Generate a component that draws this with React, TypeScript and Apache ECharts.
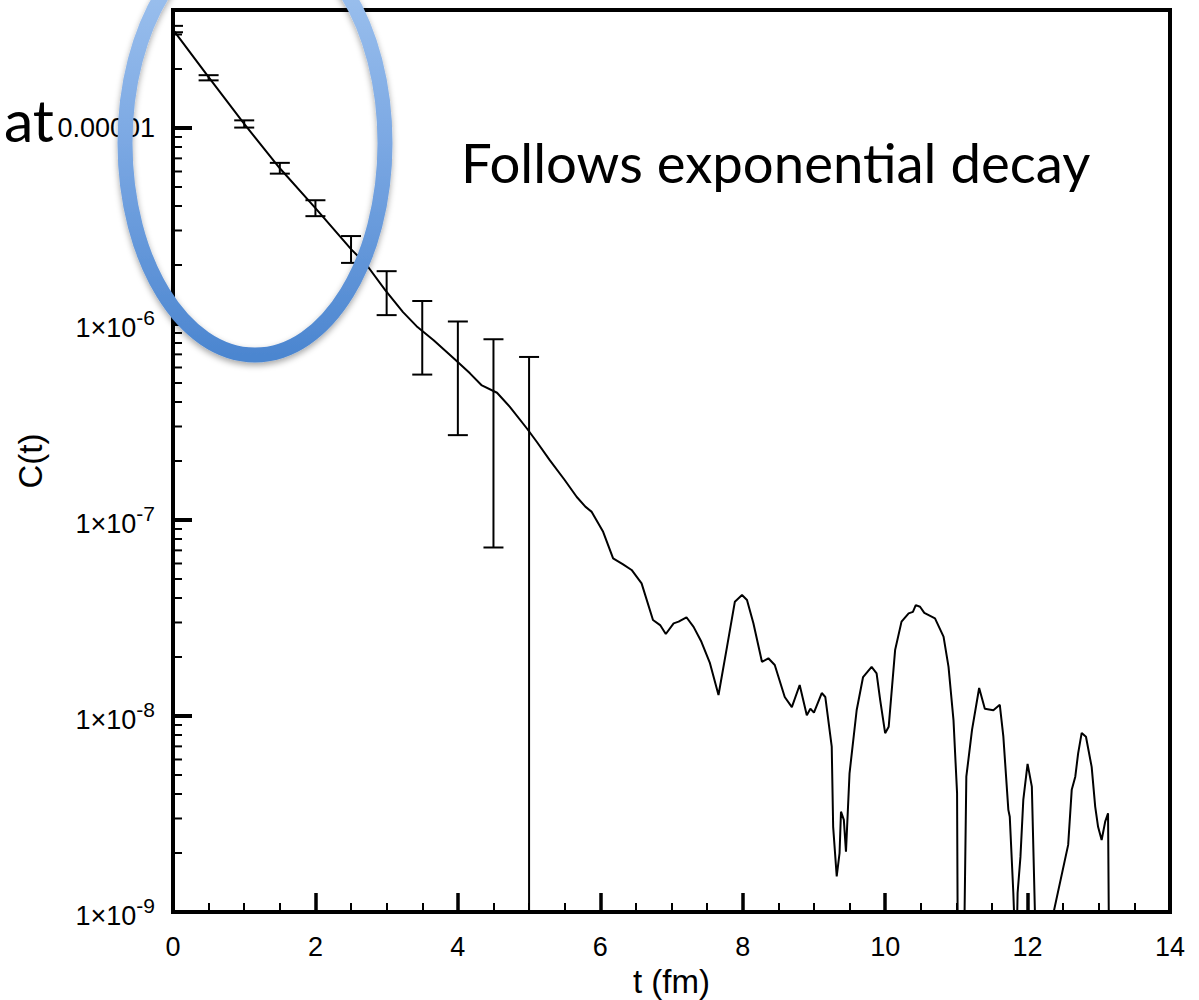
import React, { useEffect, useRef } from "react";
import * as echarts from "echarts";

// ---- curve C(t) (values below the axis floor are clipped) ----
const tValues = [
  0, 0.5, 1, 1.5, 2, 2.5, 2.72, 2.98, 3.23, 3.42, 3.66, 3.96, 4.17, 4.33, 4.55, 4.73, 4.97, 5.11, 5.29, 5.5,
  5.67, 5.79, 5.88, 6.04, 6.18, 6.32, 6.44, 6.58, 6.74, 6.84, 6.92, 7.03, 7.1, 7.21, 7.31, 7.42, 7.54, 7.66, 7.78, 7.89,
  7.99, 8.06, 8.15, 8.27, 8.36, 8.45, 8.59, 8.69, 8.8, 8.9, 8.95, 9.0, 9.11, 9.16, 9.25, 9.27, 9.32, 9.36, 9.38, 9.42,
  9.45, 9.5, 9.6, 9.69, 9.81, 9.88, 9.93, 10.0, 10.05, 10.14, 10.23, 10.33, 10.39, 10.43, 10.49, 10.55, 10.7, 10.82, 10.89, 10.96,
  11.01, 11.03, 11.08, 11.14, 11.22, 11.32, 11.4, 11.52, 11.61, 11.66, 11.73, 11.75, 11.8, 11.84, 11.86, 11.9, 11.94, 12.0, 12.06, 12.13,
  12.57, 12.62, 12.67, 12.71, 12.76, 12.82, 12.9, 12.95, 12.99, 13.04, 13.09, 13.13, 13.16,
];
const cValues = [
  3.18e-5, 1.82e-5, 1.05e-5, 6.23e-6, 3.9e-6, 2.41e-6, 2.0e-6, 1.49e-6, 1.15e-6, 9.75e-7, 8.26e-7, 6.59e-7, 5.6e-7, 4.88e-7, 4.46e-7, 3.78e-7, 2.93e-7, 2.5e-7, 2.02e-7, 1.6e-7,
  1.31e-7, 1.17e-7, 1.1e-7, 8.7e-8, 6.37e-8, 5.94e-8, 5.56e-8, 4.75e-8, 3.09e-8, 2.91e-8, 2.62e-8, 2.97e-8, 3.03e-8, 3.19e-8, 2.85e-8, 2.39e-8, 1.86e-8, 1.28e-8, 2.26e-8, 3.83e-8,
  4.14e-8, 3.91e-8, 2.97e-8, 1.89e-8, 1.97e-8, 1.82e-8, 1.25e-8, 1.11e-8, 1.44e-8, 1.01e-8, 1.09e-8, 1.04e-8, 1.31e-8, 1.25e-8, 6.97e-9, 2.72e-9, 1.52e-9, 2.0e-9, 3.25e-9, 2.95e-9,
  2.03e-9, 5.1e-9, 1.07e-8, 1.58e-8, 1.78e-8, 1.65e-8, 1.21e-8, 8.17e-9, 8.82e-9, 2.17e-8, 3.03e-8, 3.34e-8, 3.4e-8, 3.68e-8, 3.61e-8, 3.36e-8, 3.15e-8, 2.54e-8, 1.78e-8, 9.5e-9,
  4.04e-9, 1e-10, 1e-10, 4.9e-9, 8.5e-9, 1.39e-8, 1.09e-8, 1.07e-8, 1.14e-8, 7.84e-9, 3.32e-9, 3.06e-9, 1.25e-9, 5e-10, 1.25e-9, 1.91e-9, 3.73e-9, 5.7e-9, 4.36e-9, 4e-10,
  2.2e-9, 4.2e-9, 4.9e-9, 6.45e-9, 8.2e-9, 7.84e-9, 5.5e-9, 3.44e-9, 2.72e-9, 2.33e-9, 2.89e-9, 3.19e-9, 1e-10,
];

// ---- error bars ----
const errT = [0, 0.5, 1, 1.5, 2, 2.5, 3, 3.5, 4, 4.5, 5];
const errLow = [3.08e-5, 1.75e-5, 1.005e-5, 5.85e-6, 3.55e-6, 2.05e-6, 1.11e-6, 5.52e-7, 2.71e-7, 7.24e-8, 1e-9];
const errHigh = [3.32e-5, 1.86e-5, 1.094e-5, 6.64e-6, 4.28e-6, 2.81e-6, 1.86e-6, 1.31e-6, 1.03e-6, 8.36e-7, 6.79e-7];

// ---- axes ----
const xMin = 0;
const xMax = 14;
const xInterval = 2;
const yMin = 1e-9;
const yMax = 4e-5;
const yDecadeExponents = [-9, -8, -7, -6, -5];
const yPlainLabels: Record<number, string> = { [-5]: "0.00001" };
const yMinorMultipliers = [2, 3, 4, 5, 6, 7, 8, 9];

const minorTickValues: number[] = [];
yDecadeExponents.forEach((e) => {
  yMinorMultipliers.forEach((m) => {
    const v = m * Math.pow(10, e);
    if (v < yMax * 0.999) minorTickValues.push(v);
  });
});

const AXIS_FONT = "Liberation Sans, Arial, Helvetica, sans-serif";
const SLIDE_FONT = "Lato, 'Open Sans', sans-serif";

export default function App() {
  const ref = useRef<HTMLDivElement>(null);
  useEffect(() => {
    if (!ref.current) return;
    const chart = echarts.init(ref.current, null, { renderer: "svg" });
    const lineData = tValues.map((t, i) => [t, cValues[i]]);
    const errData = errT.map((t, i) => [t, errLow[i], errHigh[i]]);
    const minorData = minorTickValues.map((v) => [xMin, v]);

    const option: any = {
      animation: false,
      backgroundColor: "#ffffff",
      grid: {
        left: 173,
        right: 29,
        top: 10,
        bottom: 88,
        show: true,
        borderColor: "#000",
        borderWidth: 4,
        backgroundColor: "transparent",
        containLabel: false,
        outerBoundsMode: "none",
      },
      xAxis: {
        type: "value",
        min: xMin,
        max: xMax,
        interval: xInterval,
        name: "t (fm)",
        nameLocation: "middle",
        nameGap: 51,
        nameTextStyle: { fontSize: 33, fontFamily: AXIS_FONT, color: "#000" },
        axisLine: { show: true, onZero: false, lineStyle: { color: "#000", width: 4 } },
        axisTick: { show: true, inside: true, length: 19, lineStyle: { color: "#000", width: 3.5 } },
        minorTick: { show: true, splitNumber: 4, length: 9, lineStyle: { color: "#000", width: 2 } },
        splitLine: { show: false },
        minorSplitLine: { show: false },
        axisLabel: { margin: 21, fontSize: 27, fontFamily: AXIS_FONT, color: "#000" },
      },
      yAxis: {
        type: "log",
        logBase: 10,
        min: yMin,
        max: yMax,
        name: "C(t)",
        nameLocation: "middle",
        nameRotate: 90,
        nameGap: 125,
        nameTextStyle: { fontSize: 33, fontFamily: AXIS_FONT, color: "#000" },
        axisLine: { show: true, onZero: false, lineStyle: { color: "#000", width: 4 } },
        axisTick: { show: true, inside: true, length: 19, lineStyle: { color: "#000", width: 4 } },
        minorTick: { show: false },
        splitLine: { show: false },
        axisLabel: {
          margin: 18,
          showMaxLabel: false,
          formatter: (v: number) => {
            const lg = Math.log10(v);
            const e = Math.round(lg);
            if (Math.abs(lg - e) > 0.01) return "";
            if (yPlainLabels[e]) return "{p|" + yPlainLabels[e] + "}";
            return "{b|1×10}{s|" + e + "}";
          },
          rich: {
            p: { fontSize: 27, fontFamily: AXIS_FONT, color: "#000" },
            b: { fontSize: 27, fontFamily: AXIS_FONT, color: "#000", padding: [8, 0, 0, 0] },
            s: { fontSize: 21, fontFamily: AXIS_FONT, color: "#000", padding: [0, 0, 14, 0] },
          },
        },
      },
      series: [
        {
          type: "line",
          data: lineData,
          showSymbol: false,
          symbol: "none",
          clip: true,
          lineStyle: { color: "#000", width: 2 },
          z: 3,
        },
        {
          type: "custom",
          data: errData,
          clip: true,
          encode: { x: 0, y: [1, 2] },
          renderItem: (params: any, api: any) => {
            const t = api.value(0);
            const lo = api.coord([t, api.value(1)]);
            const hi = api.coord([t, api.value(2)]);
            const half = 10;
            const st = { stroke: "#000", lineWidth: 2 };
            return {
              type: "group",
              children: [
                { type: "line", shape: { x1: lo[0], y1: lo[1], x2: hi[0], y2: hi[1] }, style: st },
                { type: "line", shape: { x1: hi[0] - half, y1: hi[1], x2: hi[0] + half, y2: hi[1] }, style: st },
                { type: "line", shape: { x1: lo[0] - half, y1: lo[1], x2: lo[0] + half, y2: lo[1] }, style: st },
              ],
            };
          },
          z: 4,
        },
        {
          type: "custom",
          data: minorData,
          encode: { x: 0, y: 1 },
          renderItem: (params: any, api: any) => {
            const p = api.coord([api.value(0), api.value(1)]);
            return {
              type: "line",
              shape: { x1: p[0], y1: p[1], x2: p[0] + 9, y2: p[1] },
              style: { stroke: "#000", lineWidth: 2 },
            };
          },
          z: 5,
        },
      ],
      graphic: [
        {
          type: "text",
          x: 461,
          y: 162,
          z: 50,
          style: {
            text: "Follows exponential decay",
            fontSize: 54.5,
            fontFamily: SLIDE_FONT,
            fill: "#000",
            align: "left",
            verticalAlign: "middle",
          },
        },
        {
          type: "text",
          x: 54,
          y: 119,
          z: 50,
          style: {
            text: "at",
            fontSize: 59,
            fontFamily: SLIDE_FONT,
            fill: "#000",
            align: "right",
            verticalAlign: "middle",
          },
        },
        {
          type: "ellipse",
          z: 100,
          shape: { cx: 255, cy: 143, rx: 130, ry: 212 },
          style: {
            fill: "none",
            lineWidth: 15,
            stroke: new echarts.graphic.LinearGradient(0, 0, 0, 1, [
              { offset: 0, color: "#A6C8F1" },
              { offset: 0.5, color: "#7BA8E3" },
              { offset: 1, color: "#4C86D0" },
            ]),
            shadowBlur: 6,
            shadowOffsetY: 3,
            shadowColor: "rgba(0,0,0,0.35)",
          },
        },
      ],
    };
    chart.setOption(option);
    return () => chart.dispose();
  }, []);
  return (
    <div
      ref={ref}
      style={{ position: "fixed", left: 0, top: 0, width: 1199, height: 1000, background: "#fff" }}
    />
  );
}
